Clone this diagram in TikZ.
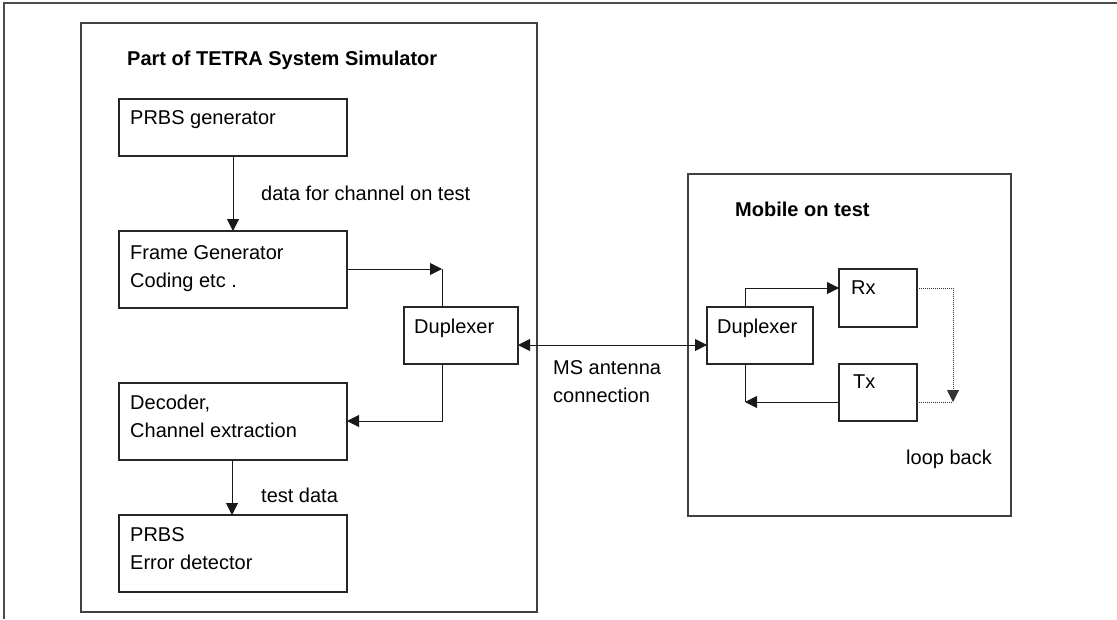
\documentclass[tikz,border=0pt]{standalone}
\usepackage{fontspec}
\setmainfont{Liberation Sans}
\usetikzlibrary{arrows.meta}
\tikzset{
  frame/.style={draw=black!75, line width=1.3pt, anchor=north west, inner sep=0pt, outer sep=0pt},
  blk/.style={draw=black!85, line width=1.2pt, anchor=north west, inner sep=0pt, outer sep=0pt},
  txt/.style={anchor=north west, inner sep=0pt, align=left, font=\fontsize{20}{28}\selectfont},
  ttl/.style={anchor=north west, inner sep=0pt, font=\fontsize{20}{28}\selectfont\bfseries},
  conn/.style={line width=1pt, black!90},
  arr/.style={conn, -{Triangle[length=12pt,width=12pt]}},
  barr/.style={conn, {Triangle[length=12pt,width=12pt]}-{Triangle[length=12pt,width=12pt]}},
  dotc/.style={line width=1pt, black!80, densely dotted},
  darr/.style={dotc, -{Triangle[length=12pt,width=12pt]}}
}
\begin{document}
\begin{tikzpicture}[x=1pt,y=-1pt]
\useasboundingbox (0,0) rectangle (1117,619);
% outer frame (partial)
\coordinate (obl) at (4,619);
\coordinate (otl) at (4,3);
\coordinate (otr) at (1117,3);
\draw[black!70, line width=1.3pt] (obl) -- (otl) -- (otr);

% simulator
\node[frame, minimum width=456pt, minimum height=589pt] (sim) at (81,23) {};
\node[ttl] (simt) at (127,51) {Part of TETRA System Simulator};

\node[blk, minimum width=228pt, minimum height=57pt] (prbs) at (119,99) {};
\node[txt] (prbst) at (130,110) {PRBS generator};

\node[blk, minimum width=228pt, minimum height=77pt] (frm) at (119,231) {};
\node[txt] (frmt) at (130,245) {Frame Generator\\Coding etc .};

\node[blk, minimum width=114pt, minimum height=57pt] (dupl) at (404,307) {};
\node[txt] (duplt) at (414,319) {Duplexer};

\node[blk, minimum width=228pt, minimum height=77pt] (dec) at (119,383) {};
\node[txt] (dect) at (130,395) {Decoder,\\Channel extraction};

\node[blk, minimum width=228pt, minimum height=77pt] (err) at (119,515) {};
\node[txt] (errt) at (130,527) {PRBS\\Error detector};

\node[txt] (lab1) at (261,186) {data for channel on test};
\node[txt] (lab2) at (261,488) {test data};

% connectors simulator
\coordinate (c1) at (233,156);
\draw[arr] (prbs.south -| c1) -- (frm.north -| c1);
\coordinate (c2) at (442,269);
\draw[arr] (frm.east |- c2) -- (c2);
\draw[conn] (c2) -- (dupl.north -| c2);
\coordinate (c3) at (442,421);
\draw[arr] (dupl.south -| c3) -- (c3) -- (dec.east |- c3);
\coordinate (c4) at (232,460);
\draw[arr] (dec.south -| c4) -- (err.north -| c4);

% mobile
\node[frame, minimum width=323pt, minimum height=342pt] (mob) at (688,174) {};
\node[ttl] (mobt) at (735,202) {Mobile on test};

\node[blk, minimum width=106pt, minimum height=57pt] (dupr) at (707,307) {};
\node[txt] (duprt) at (717,319) {Duplexer};

\node[blk, minimum width=78pt, minimum height=58pt] (rx) at (839,269) {};
\node[txt] (rxt) at (851,281) {Rx};

\node[blk, minimum width=78pt, minimum height=57pt] (tx) at (839,364) {};
\node[txt] (txt1) at (853,375) {Tx};

\node[txt] (lab3) at (553,360) {MS antenna\\connection};
\node[txt] (lab4) at (906,450) {loop back};

% connection between duplexers
\coordinate (c5) at (600,345);
\draw[barr] (dupl.east |- c5) -- (dupr.west |- c5);

% mobile connectors
\coordinate (c6) at (745,288);
\draw[arr] (dupr.north -| c6) -- (c6) -- (rx.west |- c6);
\coordinate (c7) at (745,402);
\draw[arr] (tx.west |- c7) -- (c7);
\draw[conn] (c7) -- (dupr.south -| c7);
\coordinate (c8) at (953,288);
\coordinate (c9) at (953,402);
\draw[darr] (rx.east |- c8) -- (c8) -- (c9);
\draw[dotc] (tx.east |- c9) -- (c9);
\end{tikzpicture}
\end{document}
